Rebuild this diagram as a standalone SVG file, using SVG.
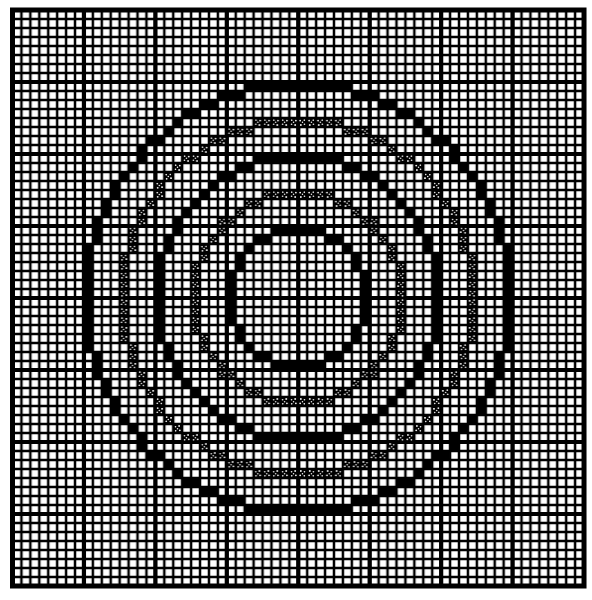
<svg xmlns="http://www.w3.org/2000/svg" xmlns:xlink="http://www.w3.org/1999/xlink" width="592" height="600" viewBox="0 0 592 600">
<style>
.maj{fill:none;stroke:#000;stroke-width:4.2;vector-effect:non-scaling-stroke}
.bord{fill:none;stroke:#000;stroke-width:5;vector-effect:non-scaling-stroke}
.solid{fill:#000}
.hatch{fill:url(#xh)}
</style>
<defs>
<pattern id="minor" patternUnits="userSpaceOnUse" x="0" y="0" width="1" height="1">
<rect x="0" y="0" width="1" height="1" fill="#000"/>
<rect x="0.14" y="0.14" width="0.72" height="0.72" fill="#fff"/>
</pattern>
<pattern id="xh" patternUnits="userSpaceOnUse" x="0" y="0" width="1" height="1">
<rect x="0" y="0" width="1" height="1" fill="#000"/>
<circle cx="0.32" cy="0.22" r="0.1" fill="#fff"/>
<circle cx="0.72" cy="0.3" r="0.09" fill="#fff"/>
<circle cx="0.5" cy="0.52" r="0.08" fill="#fff"/>
<circle cx="0.24" cy="0.7" r="0.1" fill="#fff"/>
<circle cx="0.7" cy="0.76" r="0.09" fill="#fff"/>
</pattern>
<g id="octA">
<rect x="0" y="23" width="6" height="1"/><rect x="6" y="22" width="3" height="1"/><rect x="9" y="21" width="2" height="1"/><rect x="11" y="20" width="2" height="1"/><rect x="13" y="19" width="1" height="1"/><rect x="14" y="18" width="1" height="1"/><rect x="15" y="17" width="2" height="1"/>
</g>
<g id="octB">
<rect x="0" y="19" width="5" height="1"/><rect x="5" y="18" width="3" height="1"/><rect x="8" y="17" width="2" height="1"/><rect x="10" y="16" width="1" height="1"/><rect x="11" y="15" width="2" height="1"/><rect x="13" y="14" width="1" height="1"/>
</g>
<g id="octC">
<rect x="0" y="15" width="5" height="1"/><rect x="5" y="14" width="2" height="1"/><rect x="7" y="13" width="2" height="1"/><rect x="9" y="12" width="1" height="1"/><rect x="10" y="11" width="1" height="1"/>
</g>
<g id="octD">
<rect x="0" y="11" width="4" height="1"/><rect x="4" y="10" width="2" height="1"/><rect x="6" y="9" width="1" height="1"/><rect x="7" y="8" width="2" height="1"/>
</g>
<g id="octE">
<rect x="0" y="7" width="3" height="1"/><rect x="3" y="6" width="2" height="1"/><rect x="5" y="5" width="1" height="1"/>
</g>
</defs>
<rect x="0" y="0" width="592" height="600" fill="#fff"/>
<g id="grid" transform="translate(12.5,10) scale(8.93,9)">
<rect x="0" y="0" width="64" height="64" fill="url(#minor)"/>
<path class="maj" d="M8 0V64M16 0V64M24 0V64M32 0V64M40 0V64M48 0V64M56 0V64M0 8H64M0 16H64M0 24H64M0 32H64M0 40H64M0 48H64M0 56H64"/>
<rect class="bord" x="0" y="0" width="64" height="64"/>
</g>
<g id="rings" transform="translate(298.02,298) scale(8.93,9)">
<g id="ringA" class="solid">
<use xlink:href="#octA"/><use xlink:href="#octA" transform="scale(-1,1)"/><use xlink:href="#octA" transform="scale(1,-1)"/><use xlink:href="#octA" transform="scale(-1,-1)"/>
<use xlink:href="#octA" transform="matrix(0,1,1,0,0,0)"/><use xlink:href="#octA" transform="matrix(0,1,-1,0,0,0)"/><use xlink:href="#octA" transform="matrix(0,-1,1,0,0,0)"/><use xlink:href="#octA" transform="matrix(0,-1,-1,0,0,0)"/>
</g>
<g id="ringB" class="hatch">
<use xlink:href="#octB"/><use xlink:href="#octB" transform="scale(-1,1)"/><use xlink:href="#octB" transform="scale(1,-1)"/><use xlink:href="#octB" transform="scale(-1,-1)"/>
<use xlink:href="#octB" transform="matrix(0,1,1,0,0,0)"/><use xlink:href="#octB" transform="matrix(0,1,-1,0,0,0)"/><use xlink:href="#octB" transform="matrix(0,-1,1,0,0,0)"/><use xlink:href="#octB" transform="matrix(0,-1,-1,0,0,0)"/>
</g>
<g id="ringC" class="solid">
<use xlink:href="#octC"/><use xlink:href="#octC" transform="scale(-1,1)"/><use xlink:href="#octC" transform="scale(1,-1)"/><use xlink:href="#octC" transform="scale(-1,-1)"/>
<use xlink:href="#octC" transform="matrix(0,1,1,0,0,0)"/><use xlink:href="#octC" transform="matrix(0,1,-1,0,0,0)"/><use xlink:href="#octC" transform="matrix(0,-1,1,0,0,0)"/><use xlink:href="#octC" transform="matrix(0,-1,-1,0,0,0)"/>
</g>
<g id="ringD" class="hatch">
<use xlink:href="#octD"/><use xlink:href="#octD" transform="scale(-1,1)"/><use xlink:href="#octD" transform="scale(1,-1)"/><use xlink:href="#octD" transform="scale(-1,-1)"/>
<use xlink:href="#octD" transform="matrix(0,1,1,0,0,0)"/><use xlink:href="#octD" transform="matrix(0,1,-1,0,0,0)"/><use xlink:href="#octD" transform="matrix(0,-1,1,0,0,0)"/><use xlink:href="#octD" transform="matrix(0,-1,-1,0,0,0)"/>
</g>
<g id="ringE" class="solid">
<use xlink:href="#octE"/><use xlink:href="#octE" transform="scale(-1,1)"/><use xlink:href="#octE" transform="scale(1,-1)"/><use xlink:href="#octE" transform="scale(-1,-1)"/>
<use xlink:href="#octE" transform="matrix(0,1,1,0,0,0)"/><use xlink:href="#octE" transform="matrix(0,1,-1,0,0,0)"/><use xlink:href="#octE" transform="matrix(0,-1,1,0,0,0)"/><use xlink:href="#octE" transform="matrix(0,-1,-1,0,0,0)"/>
</g>
</g>
</svg>
